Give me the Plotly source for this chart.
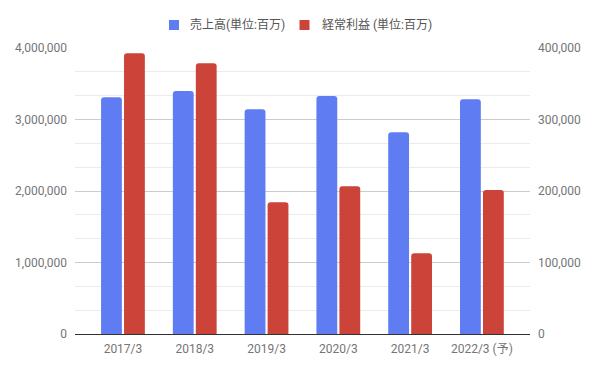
import plotly.graph_objects as go

categories = ["2017/3", "2018/3", "2019/3", "2020/3", "2021/3", "2022/3 (予)"]
sales = [3310000, 3400000, 3143000, 3329000, 2821000, 3283000]
ordinary_profit = [392600, 378600, 184200, 206600, 112800, 201400]
series_names = ["売上高(単位:百万)", "経常利益 (単位:百万)"]
left_ticks = [0, 1000000, 2000000, 3000000, 4000000]
left_tick_labels = ["0", "1,000,000", "2,000,000", "3,000,000", "4,000,000"]
right_ticks = [0, 100000, 200000, 300000, 400000]
right_tick_labels = ["0", "100,000", "200,000", "300,000", "400,000"]

BLUE = "#5f7cf2"
RED = "#cc4439"
FONT = "Roboto, 'Noto Sans CJK JP', sans-serif"

W, H = 596, 369
L, R, T, B = 75, 66, 48, 35
PW, PH = W - L - R, H - T - B


def px_x(px):
    return (px - L) / PW


def px_y(py):
    return (H - B - py) / PH


fig = go.Figure()
fig.add_trace(go.Bar(
    x=categories, y=sales, name=series_names[0],
    marker=dict(color=BLUE, line=dict(width=0)),
    width=0.29, offset=-0.305, yaxis="y",
))
fig.add_trace(go.Bar(
    x=categories, y=ordinary_profit, name=series_names[1],
    marker=dict(color=RED, line=dict(width=0)),
    width=0.29, offset=0.015, yaxis="y2",
))

# custom legend (squares + text)
legend_items = [
    (BLUE, 169, 188, series_names[0]),
    (RED, 299.5, 319.5, series_names[1]),
]
shapes, annotations = [], []
for color, sq_x, tx_x, name in legend_items:
    shapes.append(dict(
        type="rect", xref="paper", yref="paper",
        x0=px_x(sq_x), x1=px_x(sq_x + 10), y0=px_y(30), y1=px_y(20),
        fillcolor=color, line=dict(width=0),
    ))
    annotations.append(dict(
        xref="paper", yref="paper", x=px_x(tx_x), y=px_y(24.5),
        xanchor="left", yanchor="middle", showarrow=False, text=name,
        font=dict(size=12, color="#555555", family=FONT),
    ))

fig.update_layout(
    width=W, height=H,
    margin=dict(l=L, r=R, t=T, b=B, autoexpand=False),
    paper_bgcolor="white", plot_bgcolor="white",
    font=dict(family=FONT, size=12, color="#757575"),
    barcornerradius=3,
    showlegend=False,
    shapes=shapes, annotations=annotations,
    xaxis=dict(
        type="category", range=[-0.668, 5.67], automargin=False,
        showgrid=False, showline=True, linecolor="#333333", linewidth=1,
        ticks="", tickfont=dict(size=12, color="#757575"),
        ticklabelstandoff=4, fixedrange=True,
    ),
    yaxis=dict(
        range=[0, 4000000], tickvals=left_ticks, ticktext=left_tick_labels,
        automargin=False,
        showgrid=True, gridcolor="#cccccc", gridwidth=1,
        minor=dict(dtick=4000000 / 12, showgrid=True, gridcolor="#ebebeb", gridwidth=1),
        zeroline=False, showline=False, ticks="",
        ticklabelstandoff=7,
    ),
    yaxis2=dict(
        range=[0, 400000], tickvals=right_ticks, ticktext=right_tick_labels,
        automargin=False,
        overlaying="y", side="right", showgrid=False, zeroline=False,
        showline=False, ticks="", ticklabelstandoff=7,
    ),
)
fig.write_html(
    "out.html",
    config={"displayModeBar": False},
    post_script="document.body.style.margin='0';document.body.style.overflow='hidden';",
)
